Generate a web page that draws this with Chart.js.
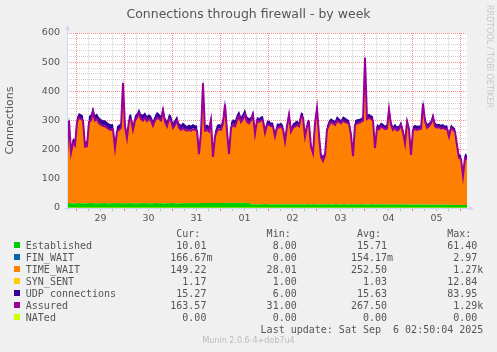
<!DOCTYPE html>
<html>
<head>
<meta charset="utf-8">
<script src="https://cdn.jsdelivr.net/npm/chart.js@4/dist/chart.umd.min.js"></script>
<style>
  html, body { margin: 0; padding: 0; background: #F0F0F0; }
  body { width: 497px; height: 352px; position: relative; overflow: hidden; }
  #c { position: absolute; left: 0; top: 0; }
  .t { position: absolute; white-space: pre; color: #555; }
  #title { left: 0; width: 497px; text-align: center; top: 5.5px; font: 12.5px/15px "DejaVu Sans"; }
  #legend { left: 25.8px; top: 227.5px; font: 10px/12px "DejaVu Sans Mono"; }
  .sw { position: absolute; width: 6px; height: 6px; left: 14px; }
  #rrd { left: 493.5px; top: 5px; font: 8px/10px "DejaVu Sans"; color: #c8c8c8; transform: rotate(90deg); transform-origin: 0 0; }
  #munin { left: 0; width: 497px; text-align: center; top: 336px; font: 8px/10px "DejaVu Sans"; color: #bbb; }
</style>
</head>
<body>
<canvas id="c" width="497" height="352"></canvas>
<div class="t" id="title">Connections through firewall - by week</div>
<div class="t" id="legend"></div>
<div class="t" id="rrd">RRDTOOL / TOBI OETIKER</div>
<div class="t" id="munin">Munin 2.0.6-4+deb7u4</div>
<script>
// ---- data (hourly samples, 201 points spanning the week) ----
const dayLabels = ['29', '30', '31', '01', '02', '03', '04', '05'];
const firstMidnightHour = 4.8;

const established = [
 16,17,16,15,16,16,17,16,16,15, 16,16,17,16,16,15,16,16,16,17,
 16,15,16,16,17,16,16,16,15,16, 16,17,16,16,16,15,16,16,17,16,
 16,16,15,16,16,17,16,16,16,15, 16,16,17,16,16,15,16,16,16,17,
 16,17,16,17,16,17,16,17,17,17, 17,17,17,18,17,17,17,17,18,17,
 18,18,17,18,18,18,17,18,18,18, 17,17,13,13,13,12,13,13,13,14,
 13,13,12,13,13,13,12,13,13,13, 12,13,13,13,12,13,13,13,12,12,
 13,13,12,13,13,12,12,13,13,12, 13,13,12,12,13,13,12,12,13,13,
 12,12,13,13,12,12,12,13,13,12, 12,12,13,13,12,12,13,12,12,12,
 13,12,12,12,13,12,12,12,12,13, 12,12,12,11,12,12,12,11,12,12,
 12,11,11,12,11,11,11,12,11,11, 11,11,11,10,11,11,10,10,10,10,
 10];

const finWait = [
 0.2,0.1,0.1,0.2,0.1,0.2,0.1,0.1,0.2,0.1, 0.2,0.1,0.1,0.2,0.1,0.2,0.1,0.1,0.2,0.1,
 0.2,0.1,0.1,0.2,0.1,0.2,0.1,0.1,0.2,0.1, 0.2,0.1,0.1,0.2,0.1,0.2,0.1,0.1,0.2,0.1,
 0.2,0.1,0.1,0.2,0.1,0.2,0.1,0.1,0.2,0.1, 0.2,0.1,0.1,0.2,0.1,0.2,0.1,0.1,0.2,0.1,
 0.2,0.1,0.1,0.2,0.1,0.2,0.1,0.1,0.2,0.1, 0.2,0.1,0.1,0.2,0.1,0.2,0.1,0.1,0.2,0.1,
 0.2,0.1,0.1,0.2,0.1,0.2,0.1,0.1,0.2,0.1, 0.2,0.1,0.1,0.2,0.1,0.2,0.1,0.1,0.2,0.1,
 0.2,0.1,0.1,0.2,0.1,0.2,0.1,0.1,0.2,0.1, 0.2,0.1,0.1,0.2,0.1,0.2,0.1,0.1,0.2,0.1,
 0.2,0.1,0.1,0.2,0.1,0.2,0.1,0.1,0.2,0.1, 0.2,0.1,0.1,0.2,0.1,0.2,0.1,0.1,0.2,0.1,
 0.2,0.1,0.1,0.2,0.1,0.2,0.1,0.1,0.2,0.1, 0.2,0.1,0.1,0.2,0.1,0.2,0.1,0.1,0.2,0.1,
 0.2,0.1,0.1,0.2,0.1,0.2,0.1,0.1,0.2,0.1, 0.2,0.1,0.1,0.2,0.1,0.2,0.1,0.1,0.2,0.1,
 0.2,0.1,0.1,0.2,0.1,0.2,0.1,0.1,0.2,0.1, 0.2,0.1,0.1,0.2,0.1,0.2,0.1,0.1,0.2,0.1,
 0.17];

const timeWait = [
 165,283,175,208,200,278,293,290,284,195, 197,280,284,313,285,290,275,270,267,265,
 260,255,253,255,190,247,253,260,410,265, 225,285,290,253,285,295,308,290,285,295,
 283,290,285,267,285,295,290,285,318,280, 265,290,285,260,270,285,260,253,260,253,
 250,253,250,255,253,250,170,245,412,250, 253,247,285,160,230,250,255,253,275,340,
 250,170,260,270,265,285,300,280,290,305, 280,275,285,305,240,285,280,285,285,243,
 270,270,265,265,230,260,260,265,255,213, 265,305,247,260,265,270,265,300,295,230,
 265,275,195,173,275,327,235,160,148,165, 253,270,280,275,270,285,280,275,285,280,
 277,275,235,163,270,275,277,280,285,500, 290,295,290,285,190,260,255,265,260,255,
 257,323,270,253,260,250,255,270,245,207, 281,255,167,253,255,253,255,257,343,285,
 260,265,275,297,265,260,263,257,260,255, 257,230,260,253,247,200,160,156,98,161,
 155];

const synSent = [
 1,1,1,1.1,1,1,1,1,1,1, 1,1,1,1.1,1,1,1,1,1,1, 1,1,1,1.1,1,1,1,1,1,1, 1,1,1,1.1,1,1,1,1,1,1,
 1,1,1,1.1,1,1,1,1,1,1, 1,1,1,1.1,1,1,1,1,1,1, 1,1,1,1.1,1,1,1,1,1,1, 1,1,1,1.1,1,1,1,1,1,1,
 1,1,1,1.1,1,1,1,1,1,1, 1,1,1,1.1,1,1,1,1,1,1, 1,1,1,1.1,1,1,1,1,1,1, 1,1,1,1.1,1,1,1,1,1,1,
 1,1,1,1.1,1,1,1,1,1,1, 1,1,1,1.1,1,1,1,1,1,1, 1,1,1,1.1,1,1,1,1,1,1, 1,1,1,1.1,1,1,1,1,1,1,
 1,1,1,1.1,1,1,1,1,1,1, 1,1,1,1.1,1,1,1,1,1,1, 1,1,1,1.1,1,1,1,1,1,1, 1,1,1,1.1,1,1,1,1,1,1,
 1.17];

const udp = [
 15,14,16,15,17,16,15,14,16,15, 17,18,19,18,17,18,19,18,17,18,
 18,19,17,16,15,16,15,16,17,16, 15,14,15,16,15,14,16,15,17,16,
 15,14,15,16,15,17,16,15,14,15, 16,15,14,15,16,15,14,15,16,15,
 14,15,16,15,14,15,16,15,14,15, 15,16,15,14,15,16,15,14,15,16,
 15,14,16,15,17,16,15,14,16,15, 16,15,14,15,16,15,14,15,16,15,
 15,16,15,14,15,16,15,14,15,16, 15,14,16,15,17,16,15,14,16,15,
 16,15,14,15,16,15,14,15,16,15, 15,16,15,14,15,16,15,14,15,16,
 15,14,16,15,17,16,15,14,16,15, 16,15,14,15,16,15,14,15,16,15,
 15,16,15,14,15,16,15,14,15,16, 15,14,16,15,17,16,15,14,16,15,
 16,15,14,15,16,15,14,15,16,15, 15,16,15,14,15,16,15,14,15,16,
 15];

const assured = [
 180,300,190,225,215,295,310,305,300,210, 212,295,300,330,300,305,290,285,282,280,
 275,270,268,270,205,262,268,275,428,280, 240,300,305,268,300,310,325,305,300,310,
 298,305,300,282,300,310,305,300,335,295, 280,305,300,275,285,300,275,268,275,268,
 265,268,265,270,268,265,185,260,428,265, 268,262,300,175,245,265,270,268,290,355,
 265,185,275,285,280,300,315,295,305,320, 295,290,300,320,255,300,295,300,300,258,
 285,285,280,280,245,275,275,280,270,228, 280,320,262,275,280,285,280,315,310,245,
 280,290,210,188,290,342,250,175,162,180, 268,285,295,290,285,300,295,290,300,295,
 292,290,250,178,285,290,292,295,300,515, 305,310,305,300,205,275,270,280,275,270,
 272,338,285,268,275,265,270,285,260,222, 296,270,182,268,270,268,270,272,358,300,
 275,280,290,312,280,275,278,272,275,270, 272,245,275,268,262,215,172,168,110,172,
 165];

const nated = [
 0,0,0,0,0,0,0,0,0,0, 0,0,0,0,0,0,0,0,0,0, 0,0,0,0,0,0,0,0,0,0, 0,0,0,0,0,0,0,0,0,0,
 0,0,0,0,0,0,0,0,0,0, 0,0,0,0,0,0,0,0,0,0, 0,0,0,0,0,0,0,0,0,0, 0,0,0,0,0,0,0,0,0,0,
 0,0,0,0,0,0,0,0,0,0, 0,0,0,0,0,0,0,0,0,0, 0,0,0,0,0,0,0,0,0,0, 0,0,0,0,0,0,0,0,0,0,
 0,0,0,0,0,0,0,0,0,0, 0,0,0,0,0,0,0,0,0,0, 0,0,0,0,0,0,0,0,0,0, 0,0,0,0,0,0,0,0,0,0,
 0,0,0,0,0,0,0,0,0,0, 0,0,0,0,0,0,0,0,0,0, 0,0,0,0,0,0,0,0,0,0, 0,0,0,0,0,0,0,0,0,0,
 0];

const seriesNames  = ['Established', 'FIN_WAIT', 'TIME_WAIT', 'SYN_SENT', 'UDP connections', 'Assured', 'NATed'];
const seriesColors = ['#00CC00', '#0066B3', '#FF8000', '#FFCC00', '#330099', '#990099', '#CCFF00'];
const legendCur = ['10.01', '166.67m', '149.22', '1.17', '15.27', '163.57', '0.00'];
const legendMin = ['8.00', '0.00', '28.01', '1.00', '6.00', '31.00', '0.00'];
const legendAvg = ['15.71', '154.17m', '252.50', '1.03', '15.63', '267.50', '0.00'];
const legendMax = ['61.40', '2.97', '1.27k', '12.84', '83.95', '1.29k', '0.00'];
const lastUpdate = 'Last update: Sat Sep  6 02:50:04 2025';

// ---- legend (monospace table like rrdtool) ----
function field(s) {
  const m = s.match(/^([\d.]+)([a-zA-Z]?)$/);
  return m[1].padStart(6) + (m[2] || ' ');
}
const lines = [];
lines.push(' '.repeat(25) + 'Cur:' + ' '.repeat(11) + 'Min:' + ' '.repeat(11) + 'Avg:' + ' '.repeat(11) + 'Max:');
seriesNames.forEach((n, i) => {
  lines.push(n.padEnd(24) + field(legendCur[i]) + ' '.repeat(8) + field(legendMin[i]) + ' '.repeat(8) +
             field(legendAvg[i]) + ' '.repeat(8) + field(legendMax[i]));
});
lines.push(' '.repeat(39) + lastUpdate);
document.getElementById('legend').textContent = lines.join('\n');
seriesNames.forEach((n, i) => {
  const d = document.createElement('div');
  d.className = 'sw';
  d.style.top = (242 + 12 * i) + 'px';
  d.style.background = seriesColors[i];
  document.body.appendChild(d);
});

// ---- chart ----
const xy = arr => arr.map((v, i) => ({ x: i, y: v }));
const stackedSeries = [established, finWait, timeWait, synSent, udp];
const datasets = stackedSeries.map((arr, i) => ({
  label: seriesNames[i],
  data: xy(arr),
  backgroundColor: seriesColors[i],
  borderColor: 'rgba(0,0,0,0)',
  borderWidth: 0,
  pointRadius: 0,
  fill: i === 0 ? 'origin' : '-1',
  stack: 'conn',
  order: 2,
  tension: 0
}));
datasets.push({
  label: seriesNames[5], data: xy(assured), borderColor: seriesColors[5], backgroundColor: seriesColors[5],
  borderWidth: 2, pointRadius: 0, fill: false, stack: 'assured', order: 1, tension: 0
});
datasets.push({
  label: seriesNames[6], data: xy(nated), borderColor: seriesColors[6], backgroundColor: seriesColors[6],
  borderWidth: 1, pointRadius: 0, fill: false, stack: 'nated', order: 0, tension: 0
});

const RED = 'rgba(255,0,0,0.45)';
const GRAY = 'rgba(140,140,140,0.4)';
const AXIS = '#CFD6F8';
const tickFont = { family: 'DejaVu Sans', size: 9.5 };

const bgPlugin = {
  id: 'bg',
  beforeDraw(chart) {
    const { ctx, chartArea: a } = chart;
    ctx.save();
    ctx.fillStyle = '#FFFFFF';
    ctx.fillRect(a.left, a.top, a.right - a.left, a.bottom - a.top);
    ctx.restore();
  },
  afterDraw(chart) {
    const { ctx, chartArea: a } = chart;
    ctx.save();
    ctx.strokeStyle = AXIS; ctx.fillStyle = AXIS; ctx.lineWidth = 1;
    ctx.beginPath();
    ctx.moveTo(a.left + 0.5, a.bottom + 3); ctx.lineTo(a.left + 0.5, a.top - 3);
    ctx.moveTo(a.left - 3, a.bottom + 0.5); ctx.lineTo(a.right + 2, a.bottom + 0.5);
    ctx.stroke();
    ctx.beginPath();
    ctx.moveTo(a.left + 0.5, a.top - 8); ctx.lineTo(a.left + 3, a.top - 3); ctx.lineTo(a.left - 2, a.top - 3); ctx.closePath();
    ctx.fill();
    ctx.beginPath();
    ctx.moveTo(a.right + 7, a.bottom + 0.5); ctx.lineTo(a.right + 2, a.bottom - 2); ctx.lineTo(a.right + 2, a.bottom + 3); ctx.closePath();
    ctx.fill();
    ctx.restore();
  }
};

new Chart(document.getElementById('c'), {
  type: 'line',
  data: { datasets },
  plugins: [bgPlugin],
  options: {
    responsive: false,
    animation: false,
    devicePixelRatio: 1,
    layout: { padding: { left: 0, right: 30, top: 33, bottom: 124 } },
    plugins: { legend: { display: false }, tooltip: { enabled: false }, title: { display: false } },
    scales: {
      x: {
        type: 'linear', min: 0, max: 200, z: 1,
        afterBuildTicks(scale) {
          const t = [];
          for (let k = 0; firstMidnightHour + 6 * k <= 200; k++) t.push({ value: firstMidnightHour + 6 * k });
          scale.ticks = t;
        },
        afterFit(scale) { scale.height = 20; },
        grid: {
          color: c => (c.index % 4 === 0 ? RED : GRAY),
          tickColor: c => (c.index % 4 === 0 ? 'rgba(255,0,0,0.5)' : 'rgba(140,140,140,0.5)'),
          drawTicks: true, tickLength: 3, lineWidth: 1
        },
        border: { display: false, dash: [1, 1] },
        ticks: {
          autoSkip: false, maxRotation: 0, minRotation: 0, padding: 2,
          font: tickFont, color: '#555',
          callback: (v, i) => (i % 4 === 2 ? dayLabels[(i - 2) / 4] : '')
        }
      },
      y: {
        min: 0, max: 600, stacked: true, z: 1,
        afterBuildTicks(scale) {
          const t = [];
          for (let v = 0; v <= 600; v += 20) t.push({ value: v });
          scale.ticks = t;
        },
        afterFit(scale) { scale.width = 67; },
        grid: {
          color: c => (c.tick.value === 0 ? 'rgba(0,0,0,0)' : (c.tick.value % 100 === 0 ? RED : GRAY)),
          drawTicks: false, lineWidth: 1
        },
        border: { display: false, dash: [1, 1] },
        ticks: {
          autoSkip: false, padding: 7, font: tickFont, color: '#555',
          callback: v => (v % 100 === 0 ? String(v) : '')
        },
        title: {
          display: true, text: 'Connections', color: '#555',
          font: { family: 'DejaVu Sans', size: 11 }, padding: { top: 4, bottom: 0 }
        }
      }
    }
  }
});
</script>
</body>
</html>
